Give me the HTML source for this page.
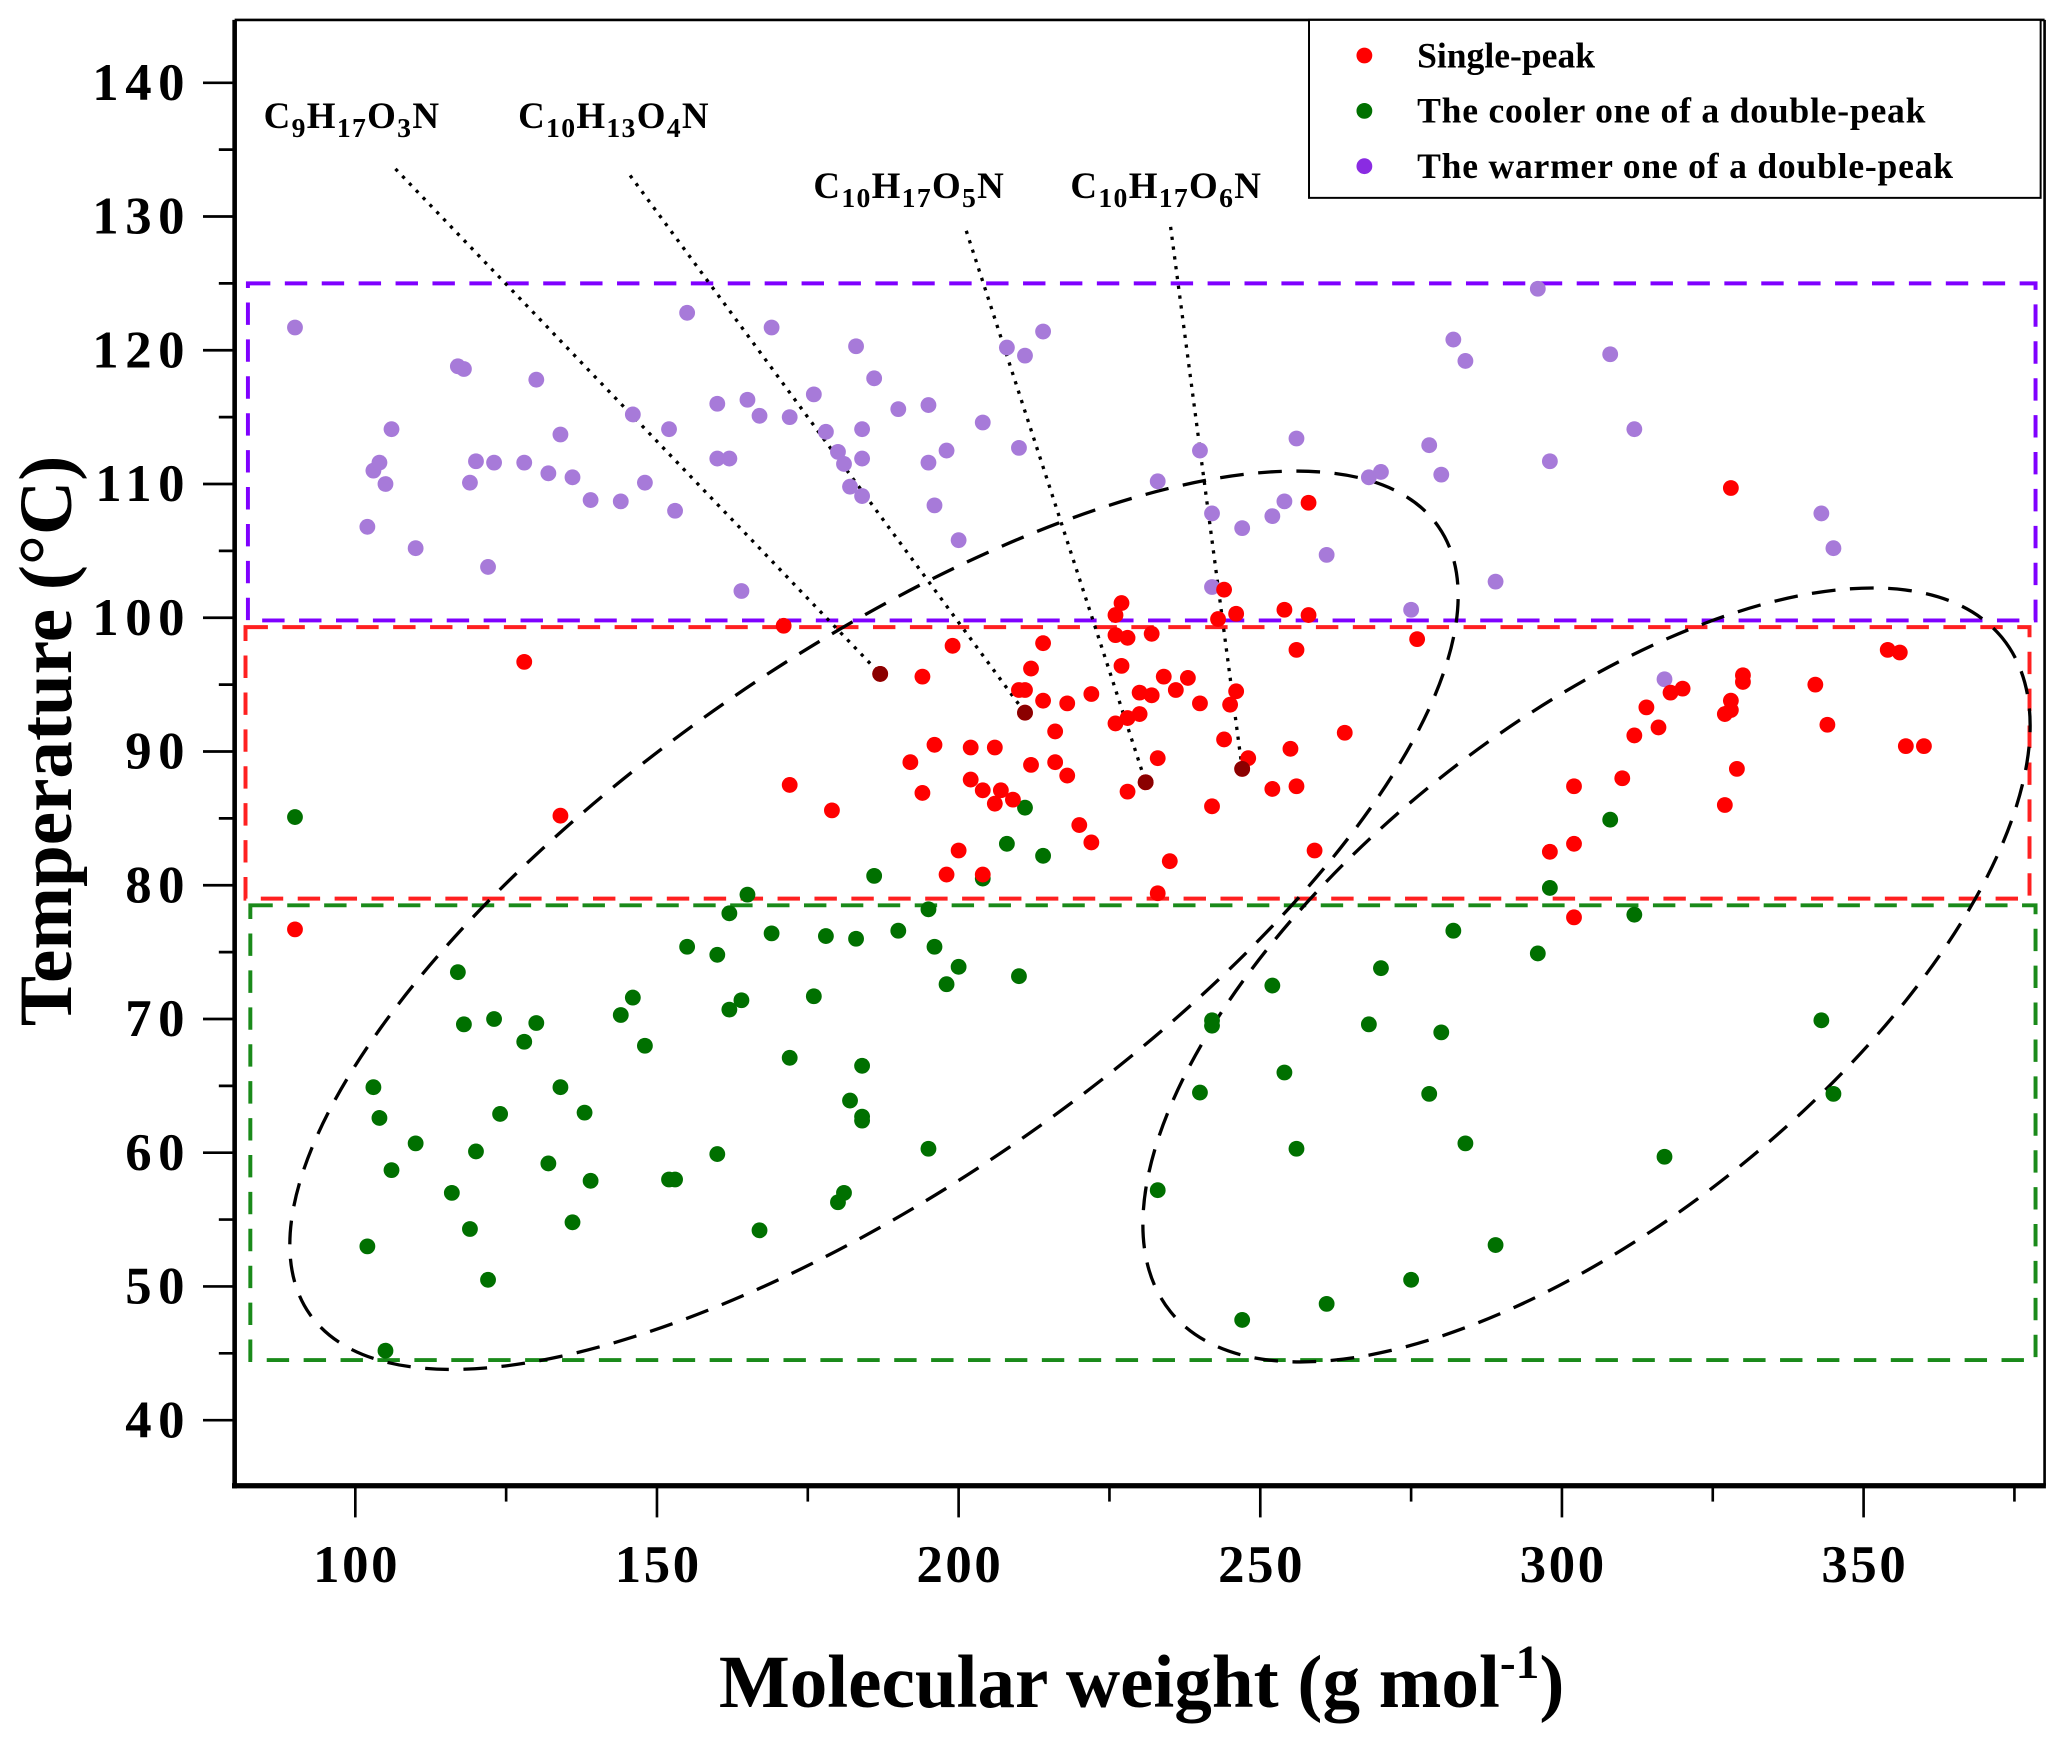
<!DOCTYPE html>
<html><head><meta charset="utf-8"><style>
html,body{margin:0;padding:0;background:#fff;}
svg{display:block;font-family:"Liberation Serif",serif;font-weight:bold;}
</style></head><body>
<svg id="chart" width="2067" height="1739" viewBox="0 0 1568 1319" xmlns="http://www.w3.org/2000/svg">
<rect x="0" y="0" width="1568" height="1319" fill="#fff"/>
<g id="boxes"></g>
<g id="ellipses"></g>
<g id="leaders"></g>
<g id="points"></g>
<g id="axes"></g>
<g>
 <rect x="993" y="15" width="555" height="135" fill="#fff" stroke="#000" stroke-width="1.5"/>
 <circle cx="1035" cy="42" r="6" fill="#ff0000"/>
 <text x="1075" y="51" font-size="27">Single-peak</text>
 <circle cx="1035" cy="84" r="6" fill="#007000"/>
 <text x="1075" y="93" font-size="27" letter-spacing="0.6">The cooler one of a double-peak</text>
 <circle cx="1035" cy="126" r="6" fill="#8a2be2"/>
 <text x="1075" y="135" font-size="27" letter-spacing="0.6">The warmer one of a double-peak</text>
</g>
<g font-size="28" letter-spacing="1">
 <text x="200" y="97">C<tspan font-size="21" dy="7">9</tspan><tspan dy="-7">H</tspan><tspan font-size="21" dy="7">17</tspan><tspan dy="-7">O</tspan><tspan font-size="21" dy="7">3</tspan><tspan dy="-7">N</tspan></text>
 <text x="393" y="97">C<tspan font-size="21" dy="7">10</tspan><tspan dy="-7">H</tspan><tspan font-size="21" dy="7">13</tspan><tspan dy="-7">O</tspan><tspan font-size="21" dy="7">4</tspan><tspan dy="-7">N</tspan></text>
 <text x="617" y="150">C<tspan font-size="21" dy="7">10</tspan><tspan dy="-7">H</tspan><tspan font-size="21" dy="7">17</tspan><tspan dy="-7">O</tspan><tspan font-size="21" dy="7">5</tspan><tspan dy="-7">N</tspan></text>
 <text x="812" y="150">C<tspan font-size="21" dy="7">10</tspan><tspan dy="-7">H</tspan><tspan font-size="21" dy="7">17</tspan><tspan dy="-7">O</tspan><tspan font-size="21" dy="7">6</tspan><tspan dy="-7">N</tspan></text>
</g>
<text transform="translate(54,562) rotate(-90)" text-anchor="middle" font-size="57">Temperature (°C)</text>
<text x="866" y="1295" text-anchor="middle" font-size="57">Molecular weight (g mol<tspan font-size="36" dy="-22">-1</tspan><tspan dy="22">)</tspan></text>
</svg>
<script>
const NS="http://www.w3.org/2000/svg";
const xTicks=[100,150,200,250,300,350];
const yTicks=[40,50,60,70,80,90,100,110,120,130,140];
const redX=[90,128,134,171,172,179,187,192,194,194,196,198,199,200,202,202,204,204,206,206,207,209,210,211,211,212,212,214,214,216,216,218,218,220,222,222,226,226,226,227,227,228,228,228,230,230,231,232,232,233,233,234,235,236,238,240,242,243,244,244,245,246,246,247,248,254,255,252,256,256,258,258,259,264,276,298,302,302,302,310,312,314,316,318,320,327,327,328,328,328,329,330,330,342,344,354,356,357,360];
const redY=[76.7,96.7,85.2,99.4,87.5,85.6,95.8,89.2,95.6,86.9,90.5,80.8,97.9,82.6,90.3,87.9,87.1,80.8,86.1,90.3,87.1,86.4,94.6,92.9,94.6,96.2,89.0,98.1,93.8,91.5,89.2,88.2,93.6,84.5,94.3,83.2,100.2,98.7,92.1,101.1,96.4,98.5,92.5,87.0,94.4,92.8,87.7,94.2,98.8,89.5,79.4,95.6,81.8,94.6,95.5,93.6,85.9,99.9,102.1,90.9,93.5,100.3,94.5,88.7,89.5,100.6,90.2,87.2,97.6,87.4,108.6,100.2,82.6,91.4,98.4,82.5,87.4,83.1,77.6,88.0,91.2,93.3,91.8,94.4,94.7,86.0,92.8,109.7,93.8,93.1,88.7,95.7,95.2,95.0,92.0,97.6,97.4,90.4,90.4];
const greenX=[90,102,103,104,105,106,110,116,117,118,119,120,122,123,124,128,130,132,134,136,138,139,144,146,148,152,153,155,160,160,162,162,164,165,167,169,172,176,178,180,181,182,183,184,184,184,186,190,195,195,196,198,200,204,208,210,211,214,240,242,242,233,247,252,254,256,261,268,270,275,278,280,282,284,289,296,298,308,312,317,343,345];
const greenY=[85.1,53.0,64.9,62.6,45.2,58.7,60.7,57.0,73.5,69.6,54.3,60.1,50.5,70.0,62.9,68.3,69.7,59.2,64.9,54.8,63.0,57.9,70.3,71.6,68.0,58.0,58.0,75.4,74.8,59.9,70.7,77.9,71.4,79.3,54.2,76.4,67.1,71.7,76.2,56.3,57.0,63.9,76.0,66.5,62.7,62.4,80.7,76.6,78.2,60.3,75.4,72.6,73.9,80.5,83.1,73.2,85.8,82.2,64.5,69.5,69.9,57.2,47.5,72.5,66.0,60.3,48.7,69.6,73.8,50.5,64.4,69.0,76.6,60.7,53.1,74.9,79.8,84.9,77.8,59.7,69.9,64.4];
const purpleX=[90,102,103,104,105,106,110,117,118,119,120,123,122,128,130,132,134,136,139,144,146,148,152,153,155,160,160,162,164,165,167,169,172,176,178,180,181,182,183,184,184,184,186,190,195,195,196,198,200,204,208,210,211,214,233,240,242,242,247,252,254,256,261,268,270,275,278,280,282,284,289,296,298,308,312,317,343,345];
const purpleY=[121.7,106.8,111.0,111.6,110.0,114.1,105.2,118.8,118.6,110.1,111.7,111.6,103.8,111.6,117.8,110.8,113.7,110.5,108.8,108.7,115.2,110.1,114.1,108.0,122.8,116.0,111.9,111.9,102.0,116.3,115.1,121.7,115.0,116.7,113.9,112.4,111.5,109.8,120.3,111.9,109.1,114.1,117.9,115.6,115.9,111.6,108.4,112.5,105.8,114.6,120.2,112.7,119.6,121.4,110.2,112.5,107.8,102.3,106.7,107.6,108.7,113.4,104.7,110.5,110.9,100.6,112.9,110.7,120.8,119.2,102.7,124.6,111.7,119.7,114.1,95.4,107.8,105.2];
const highlightX=[187,211,231,247];
const highlightY=[95.8,92.9,87.7,88.7];
const labelAnchorX=[300,478,733,888];
const labelAnchorY=[128,133,175,172];

const L=178,R=1551,T=15,B=1127,xMin=80,xMax=380,yMin=35.1,yMax=144.7;
const sx=v=>L+(v-xMin)/(xMax-xMin)*(R-L);
const sy=v=>B-(v-yMin)/(yMax-yMin)*(B-T);
function mk(tag,attrs,parent){const e=document.createElementNS(NS,tag);for(const k in attrs)e.setAttribute(k,attrs[k]);parent.appendChild(e);return e;}

const boxes=document.getElementById('boxes');
let b;
b=mk('rect',{x:sx(82.2),y:sy(125),width:sx(378.5)-sx(82.2),height:sy(99.8)-sy(125),fill:'none',stroke:'#7f00ff','stroke-width':3,'stroke-dasharray':'17,11'},boxes);


b=mk('rect',{x:sx(81.8),y:sy(99.3),width:sx(377.5)-sx(81.8),height:sy(79)-sy(99.3),fill:'none',stroke:'#ff2020','stroke-width':3,'stroke-dasharray':'17,11'},boxes);


b=mk('rect',{x:sx(82.6),y:sy(78.5),width:sx(378.5)-sx(82.6),height:sy(44.5)-sy(78.5),fill:'none',stroke:'#1a8a1a','stroke-width':3,'stroke-dasharray':'17,11'},boxes);



const ell=document.getElementById('ellipses');
let e1=mk('ellipse',{cx:663,cy:698,rx:522,ry:200,transform:'rotate(-34.9 663 698)',fill:'none',stroke:'#000','stroke-width':2.5,'stroke-dasharray':'18,11'},ell);


let e2=mk('ellipse',{cx:1203.5,cy:739.5,rx:406,ry:186,transform:'rotate(-39 1203.5 739.5)',fill:'none',stroke:'#000','stroke-width':2.5,'stroke-dasharray':'18,11'},ell);



const pts=document.getElementById('points');
function series(xs,ys,col,name){xs.forEach((x,i)=>{const c=mk('circle',{cx:sx(x),cy:sy(ys[i]),r:6,fill:col},pts);

});}
series(purpleX,purpleY,'#a77ad9','warmer-peak-point');
series(greenX,greenY,'#007000','cooler-peak-point');
series(redX,redY,'#ff0000','single-peak-point');
series(highlightX,highlightY,'#8b0000','highlighted-point');

const ld=document.getElementById('leaders');
highlightX.forEach((x,i)=>{const l=mk('line',{x1:labelAnchorX[i],y1:labelAnchorY[i],x2:sx(x),y2:sy(highlightY[i]),stroke:'#000','stroke-width':2.5,'stroke-dasharray':'2.5,5'},ld);

});

const ax=document.getElementById('axes');
mk('line',{x1:L,y1:T,x2:R,y2:T,stroke:'#000','stroke-width':2},ax);
mk('line',{x1:R,y1:T,x2:R,y2:B,stroke:'#000','stroke-width':2},ax);
mk('line',{x1:L,y1:T,x2:L,y2:B+2,stroke:'#000','stroke-width':3.5},ax);
mk('line',{x1:L-2,y1:B,x2:R+1,y2:B,stroke:'#000','stroke-width':4},ax);
for(let v=100;v<=375;v+=25){const maj=xTicks.includes(v);mk('line',{x1:sx(v),y1:B,x2:sx(v),y2:B+(maj?24:12),stroke:'#000','stroke-width':2},ax);}
xTicks.forEach(v=>{const t=mk('text',{x:sx(v)+1,y:B+73,'text-anchor':'middle','font-size':40,'letter-spacing':2},ax);t.textContent=v;

});
for(let v=40;v<=140;v+=5){const maj=v%10===0;mk('line',{x1:L,y1:sy(v),x2:L-(maj?24:12),y2:sy(v),stroke:'#000','stroke-width':2},ax);}
yTicks.forEach(v=>{const t=mk('text',{x:L-33,y:sy(v)+13,'text-anchor':'end','font-size':40,'letter-spacing':5},ax);t.textContent=v;

});
</script>
</body></html>
